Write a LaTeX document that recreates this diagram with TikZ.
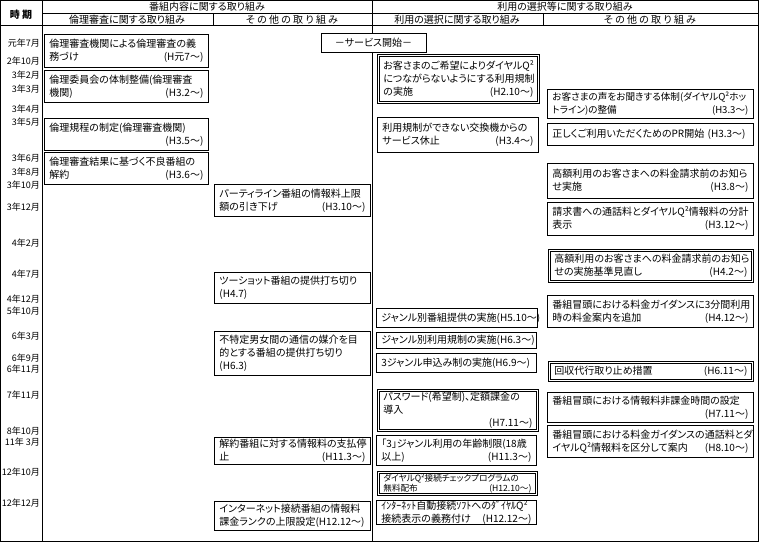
\documentclass[tikz,border=0pt]{standalone}
\usepackage{fontspec}
\setmainfont{Noto Sans CJK JP}[RawFeature=+palt]
\usepackage{tikz}
\usetikzlibrary{positioning}
\newcommand{\jptext}{\fontsize{10}{13}\selectfont}
\newcommand{\jpsmall}{\fontsize{9}{12}\selectfont}
\tikzset{
  entry/.style={draw, fill=white, anchor=north west, align=left, inner xsep=5pt, inner ysep=1pt, font=\jptext, line width=0.8pt},
  dentry/.style={entry, double, double distance=1.8pt, line width=0.8pt},
  colA/.style={entry, text width=154pt},
  colB/.style={entry, text width=146pt},
  colC/.style={entry, text width=151pt},
  colD/.style={entry, text width=196pt},
  datelbl/.style={anchor=east, inner sep=0pt, font=\jpsmall},
  headlbl/.style={inner sep=0pt, font=\jptext},
  rule/.style={line width=0.8pt}
}

\begin{document}
\begin{tikzpicture}[x=1pt, y=-1pt]
  \useasboundingbox (0,0) rectangle (759,542);
  % table frame and header rules
  \draw[rule] (0.5,0.5) rectangle (758.5,541.5);
  \draw[rule] (42,0.5) -- (42,541.5);
  \draw[rule] (372,0.5) -- (372,541.5);
  \draw[rule] (42,13) -- (758.5,13);
  \draw[rule] (0.5,25.5) -- (758.5,25.5);
  \draw[rule] (213,13) -- (213,25.5);
  \draw[rule] (543,13) -- (543,25.5);

  \node[headlbl, font=\jptext\bfseries] (jiki) at (21,15) {時 期};
  \node[headlbl] (bangumi) at (207,6.5) {番組内容に関する取り組み};
  \node[headlbl] (sentaku) at (565,6.5) {利用の選択等に関する取り組み};
  \node[headlbl] (rinri) at (127,19.5) {倫理審査に関する取り組み};
  \node[headlbl] (sonotaA) at (292,19.5) {そ の 他 の 取 り 組 み};
  \node[headlbl] (riyou) at (457,19.5) {利用の選択に関する取り組み};
  \node[headlbl] (sonotaB) at (650,19.5) {そ の 他 の 取 り 組 み};

  % time axis
  \foreach \lbl/\yy [count=\i] in {元年7月/43, 2年10月/61, 3年2月/75, 3年3月/89, 3年4月/109,
      3年5月/122, 3年6月/158, 3年8月/172, 3年10月/185, 3年12月/207, 4年2月/243,
      4年7月/274, 4年12月/299, 5年10月/311, 6年3月/336, 6年9月/358, 6年11月/369,
      7年11月/395, 8年10月/431, 11年 3月/442, 12年10月/472, 12年12月/503}
    \node[datelbl] (d\i) at (40,\yy) {\lbl};

  % 倫理審査に関する取り組み
  \node[colA, minimum height=33pt] (kikan) at (44,34) {倫理審査機関による倫理審査の義\\務づけ\hfill(H元7〜)};
  \node[colA, minimum height=32pt] (iinkai) at (44,70) {倫理委員会の体制整備(倫理審査\\機関)\hfill(H3.2〜)};
  \node[colA, minimum height=32pt] (kitei) at (44,118) {倫理規程の制定(倫理審査機関)\\\mbox{}\hfill(H3.5〜)};
  \node[colA, minimum height=32pt] (furyo) at (44,152) {倫理審査結果に基づく不良番組の\\解約\hfill(H3.6〜)};

  % 番組内容 その他
  \node[colB, minimum height=32pt] (party) at (214,184) {パーティライン番組の情報料上限\\額の引き下げ\hfill(H3.10〜)};
  \node[colB, minimum height=31pt] (twoshot) at (214,272) {ツーショット番組の提供打ち切り\\(H4.7)};
  \node[colB, minimum height=44pt] (baikai) at (214,331) {不特定男女間の通信の媒介を目\\的とする番組の提供打ち切り\\(H6.3)};
  \node[colB, minimum height=27pt] (shiharai) at (214,437) {解約番組に対する情報料の支払停\\止\hfill(H11.3〜)};
  \node[colB, minimum height=29pt] (jogen) at (214,501) {インターネット接続番組の情報料\\課金ランクの上限設定(H12.12〜)};

  \node[draw, fill=white, font=\jptext, line width=0.8pt, minimum width=105pt, minimum height=19pt, inner sep=0pt] (kaishi) at (373.5,42.5) {－サービス開始－};

  % 利用の選択に関する取り組み
  \node[dentry, text width=150pt, minimum height=47pt] (kibou) at (378,55) {お客さまのご希望によりダイヤルQ²\\につながらないようにする利用規制\\の実施\hfill(H2.10〜)};
  \node[colC, minimum height=35pt] (kyushi) at (377,117) {利用規制ができない交換機からの\\サービス休止\hfill(H3.4〜)};
  \node[colC, minimum height=19pt] (genreA) at (376,308) {ジャンル別番組提供の実施(H5.10〜)};
  \node[colC, text width=150pt, minimum height=16pt] (genreB) at (376,332) {ジャンル別利用規制の実施(H6.3〜)};
  \node[colC, text width=150pt, minimum height=19pt] (genreC) at (376,353) {3ジャンル申込み制の実施(H6.9〜)};
  \node[dentry, text width=149pt, minimum height=40pt] (password) at (378,390) {パスワード(希望制)、定額課金の\\導入\\\mbox{}\hfill(H7.11〜)};
  \node[colC, text width=150pt, minimum height=30pt] (nenrei) at (376,435) {「3」ジャンル利用の年齢制限(18歳\\以上)\hfill(H11.3〜)};
  \node[dentry, text width=148pt, minimum height=22pt, inner ysep=0pt, font=\fontsize{8.6}{9.6}\selectfont] (check) at (378,472) {ダイヤルQ²接続チェックプログラムの\\無料配布\hfill(H12.10〜)};
  \node[colC, text width=150pt, minimum height=22pt, inner ysep=0pt] (jidou) at (376,500) {ｲﾝﾀｰﾈｯﾄ自動接続ｿﾌﾄへのﾀﾞｲﾔﾙQ²\\接続表示の義務付け\hfill(H12.12〜)};

  % 利用の選択等 その他
  \node[colD, minimum height=29pt, font=\fontsize{9.6}{13}\selectfont] (koe) at (547,89) {お客さまの声をお聞きする体制(ダイヤルQ²ホッ\\トライン)の整備\hfill(H3.3〜)};
  \node[colD, minimum height=22pt] (pr) at (547,123) {正しくご利用いただくためのPR開始 (H3.3〜)};
  \node[colD, minimum height=35pt] (oshirase) at (547,163) {高額利用のお客さまへの料金請求前のお知ら\\せ実施\hfill(H3.8〜)};
  \node[colD, minimum height=33pt] (bunkei) at (547,202) {請求書への通話料とダイヤルQ²情報料の分計\\表示\hfill(H3.12〜)};
  \node[dentry, text width=193pt, minimum height=31pt] (minaoshi) at (549,250) {高額利用のお客さまへの料金請求前のお知ら\\せの実施基準見直し\hfill(H4.2〜)};
  \node[colD, minimum height=32pt] (sanpun) at (547,295) {番組冒頭における料金ガイダンスに3分間利用\\時の料金案内を追加\hfill(H4.12〜)};
  \node[dentry, text width=193pt, minimum height=18pt] (kaishu) at (549,362) {回収代行取り止め措置\hfill(H6.11〜)};
  \node[colD, minimum height=30pt] (hikakin) at (547,392) {番組冒頭における情報料非課金時間の設定\\\mbox{}\hfill(H7.11〜)};
  \node[colD, minimum height=32pt] (kubun) at (547,425) {番組冒頭における料金ガイダンスの通話料とダ\\イヤルQ²情報料を区分して案内\hfill(H8.10〜)};
\end{tikzpicture}
\end{document}
